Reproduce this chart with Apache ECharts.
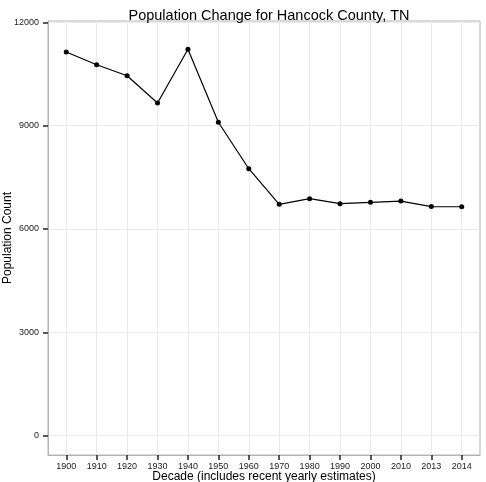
<!DOCTYPE html>
<html>
<head>
<meta charset="utf-8">
<script src="https://cdn.jsdelivr.net/npm/echarts@6/dist/echarts.min.js"></script>
<style>
html, body { margin: 0; padding: 0; background: #fff; }
#chart { width: 486px; height: 482px; }
</style>
</head>
<body>
<div id="chart"></div>
<script>
// data
var decades = ['1900', '1910', '1920', '1930', '1940', '1950', '1960', '1970', '1980', '1990', '2000', '2010', '2013', '2014'];
var population = [11140, 10770, 10450, 9660, 11220, 9100, 7750, 6715, 6880, 6735, 6775, 6810, 6650, 6645];
var yTicks = [0, 3000, 6000, 9000, 12000];

var xIdx = decades.map(function (d, i) { return i; });
var points = population.map(function (v, i) { return [i, v]; });

var chart = echarts.init(document.getElementById('chart'));
var font = 'Liberation Sans, Arial, sans-serif';

chart.setOption({
  animation: false,
  title: {
    text: 'Population Change for Hancock County, TN',
    left: 264, top: 3, textAlign: 'center',
    textStyle: { fontFamily: font, fontSize: 14.5, fontWeight: 'normal', color: '#000' }
  },
  grid: {
    left: 48, right: 6, top: 21, bottom: 27,
    outerBoundsMode: 'none',
    show: true, borderColor: '#b3b3b3', borderWidth: 1, backgroundColor: '#fff'
  },
  xAxis: {
    type: 'value',
    min: -0.6, max: 13.6,
    name: 'Decade (includes recent yearly estimates)',
    nameLocation: 'middle', nameGap: 16, nameMoveOverlap: false,
    nameTextStyle: { fontFamily: font, fontSize: 12, color: '#000' },
    axisLine: { show: true, onZero: false, lineStyle: { color: '#b3b3b3', width: 1 } },
    axisTick: { show: true, inside: false, customValues: xIdx, length: 5, lineStyle: { color: '#222', width: 1.5 } },
    axisLabel: {
      customValues: xIdx, margin: 7,
      fontFamily: font, fontSize: 9, color: '#222',
      formatter: function (v) { return decades[Math.round(v)]; }
    },
    splitLine: { show: true, lineStyle: { color: '#ebebeb', width: 1 } }
  },
  yAxis: {
    type: 'value',
    min: -565, max: 12040,
    name: 'Population Count',
    nameLocation: 'middle', nameGap: 34, nameMoveOverlap: false,
    nameTextStyle: { fontFamily: font, fontSize: 12, color: '#000' },
    axisLine: { show: true, onZero: false, lineStyle: { color: '#b3b3b3', width: 1 } },
    axisTick: { show: true, inside: false, customValues: yTicks, length: 5, lineStyle: { color: '#222', width: 1.5 } },
    axisLabel: {
      customValues: yTicks, margin: 9,
      fontFamily: font, fontSize: 9, color: '#222',
      formatter: function (v) { return String(v); }
    },
    splitLine: { show: true, lineStyle: { color: '#ebebeb', width: 1 } }
  },
  series: [{
    type: 'line',
    data: points,
    symbol: 'circle', symbolSize: 5,
    itemStyle: { color: '#000' },
    lineStyle: { color: '#000', width: 1.2 }
  }]
});
</script>
</body>
</html>
